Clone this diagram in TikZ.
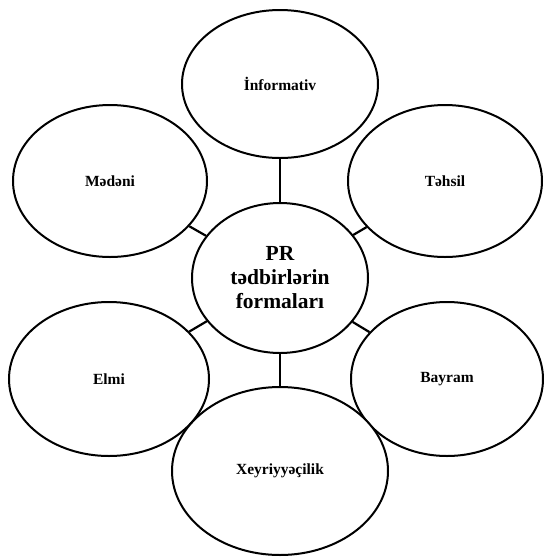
\documentclass[tikz,border=0pt]{standalone}
\usepackage{fontspec}
\setmainfont{Liberation Serif}
\usetikzlibrary{shapes.geometric}
\begin{document}
\begin{tikzpicture}[x=1pt,y=-1pt,
  oval/.style={draw=black, line width=2pt, ellipse, inner sep=0pt, fill=white,
    font=\fontsize{15.5}{18}\selectfont\bfseries, align=center},
  link/.style={draw=black, line width=2.2pt}]
\useasboundingbox (0,0) rectangle (544,558);
\node[oval, minimum width=196pt, minimum height=148pt] (inf) at (280,84) {İnformativ};
\node[oval, minimum width=194pt, minimum height=152pt] (med) at (110,181) {Mədəni};
\node[oval, minimum width=194pt, minimum height=152pt] (teh) at (445,181) {Təhsil};
\node[oval, minimum width=200pt, minimum height=154pt] (elm) at (109,379) {Elmi};
\node[oval, minimum width=192pt, minimum height=154pt] (bay) at (447,379) {Bayram};
\node[oval, minimum width=176pt, minimum height=150pt,
  font=\fontsize{21.5}{24}\selectfont\bfseries] (pr) at (280,278) {PR\\tədbirlərin\\formaları};
\node[oval, minimum width=216pt, minimum height=168pt] (xey) at (280,471) {Xeyriyyəçilik};
\draw[link] (inf) -- (pr);
\draw[link] (med) -- (pr);
\draw[link] (teh) -- (pr);
\draw[link] (elm) -- (pr);
\draw[link] (bay) -- (pr);
\draw[link] (xey) -- (pr);
\end{tikzpicture}
\end{document}
